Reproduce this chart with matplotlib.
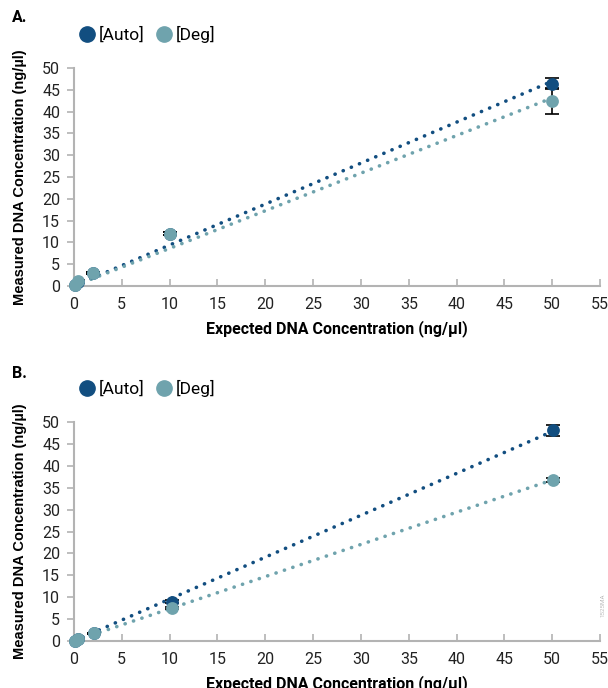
import numpy as np
import matplotlib
matplotlib.use("Agg")
import matplotlib.pyplot as plt
from matplotlib.lines import Line2D

# Panel A data
x_a = [0.08, 0.4, 2.0, 10.0, 50.0]
auto_a = [0.3, 1.0, 2.9, 12.0, 46.4]
auto_a_err = [0.1, 0.1, 0.2, 0.3, 1.3]
deg_a = [0.3, 1.2, 3.0, 12.0, 42.4]
deg_a_err = [0.1, 0.1, 0.2, 0.3, 3.0]

# Panel B data
x_b = [0.08, 0.4, 2.1, 10.2, 50.1]
auto_b = [0.1, 0.4, 1.8, 9.0, 48.1]
auto_b_err = [0.05, 0.1, 0.1, 0.3, 1.2]
deg_b = [0.1, 0.4, 1.8, 7.6, 36.8]
deg_b_err = [0.05, 0.1, 0.1, 0.2, 0.4]

x_ticks = list(range(0, 56, 5))
y_ticks = list(range(0, 51, 5))

AUTO = "#124e80"
DEG = "#6fa3ad"
SPINE = "#b3b3b3"

plt.rcParams["font.family"] = ["Roboto", "DejaVu Sans"]


def draw_panel(ax, x, auto, auto_err, deg, deg_err):
    xs = np.array(x)
    # trend lines: least squares through the origin
    for ys, col in [(auto, AUTO), (deg, DEG)]:
        ys = np.array(ys)
        k = np.sum(xs * ys) / np.sum(xs * xs)
        ax.plot(xs[[0, -1]], k * xs[[0, -1]], color=col, lw=2.6,
                linestyle=(0, (0.05, 2.4)), dash_capstyle="round", zorder=2)
    ax.errorbar(x, auto, yerr=auto_err, fmt="none", ecolor="black",
                elinewidth=1.2, capsize=5, capthick=1.2, zorder=3)
    ax.errorbar(x, deg, yerr=deg_err, fmt="none", ecolor="black",
                elinewidth=1.2, capsize=5, capthick=1.2, zorder=3)
    ax.scatter(x, auto, s=85, color=AUTO, zorder=4, linewidths=0)
    ax.scatter(x, deg, s=85, color=DEG, zorder=5, linewidths=0)

    ax.set_xlim(0, 55)
    ax.set_ylim(0, 50)
    ax.set_xticks(x_ticks)
    ax.set_yticks(y_ticks)
    for s in ["top", "right"]:
        ax.spines[s].set_visible(False)
    for s in ["left", "bottom"]:
        ax.spines[s].set_color(SPINE)
        ax.spines[s].set_linewidth(1.5)
    ax.tick_params(axis="x", direction="in", length=5, width=1.2, color=SPINE,
                   labelsize=11.5, labelcolor="#222222", pad=8)
    ax.tick_params(axis="y", direction="out", length=5, width=1.2, color=SPINE,
                   labelsize=11.5, labelcolor="#222222", pad=5)
    ax.set_xlabel("Expected DNA Concentration (ng/µl)", fontsize=11.5,
                  fontweight="bold", labelpad=6)
    ax.set_ylabel("Measured DNA Concentration (ng/µl)", fontsize=10.5,
                  fontweight="bold", family="Liberation Sans", labelpad=11)
    for c in ax.collections:
        c.set_clip_on(False)


fig = plt.figure(figsize=(6.08, 6.88), dpi=100)
ax_a = fig.add_axes([0.1217, 0.5843, 0.8653, 0.3169])
ax_b = fig.add_axes([0.1217, 0.0683, 0.8653, 0.3183])

draw_panel(ax_a, x_a, auto_a, auto_a_err, deg_a, deg_a_err)
draw_panel(ax_b, x_b, auto_b, auto_b_err, deg_b, deg_b_err)

handles = [Line2D([], [], marker="o", ls="none", ms=11, color=AUTO, label="[Auto]"),
           Line2D([], [], marker="o", ls="none", ms=11, color=DEG, label="[Deg]")]
for ytop in [1 - 19 / 688, 1 - 373 / 688]:
    fig.legend(handles=handles, loc="upper left", bbox_to_anchor=(0.117, ytop),
               ncol=2, frameon=False, fontsize=12.5, handletextpad=0.2,
               columnspacing=0.6, borderaxespad=0, handlelength=1.0)

fig.text(12 / 608, 1 - 18 / 688, "A.", fontsize=11.5, fontweight="bold", va="center")
fig.text(12 / 608, 1 - 373 / 688, "B.", fontsize=11.5, fontweight="bold", va="center")
fig.text(603 / 608, 1 - 605 / 688, "1525MA", fontsize=4.5, color="#bbbbbb",
         rotation=90, va="center", ha="center")

fig.savefig("out.png", dpi=100)
